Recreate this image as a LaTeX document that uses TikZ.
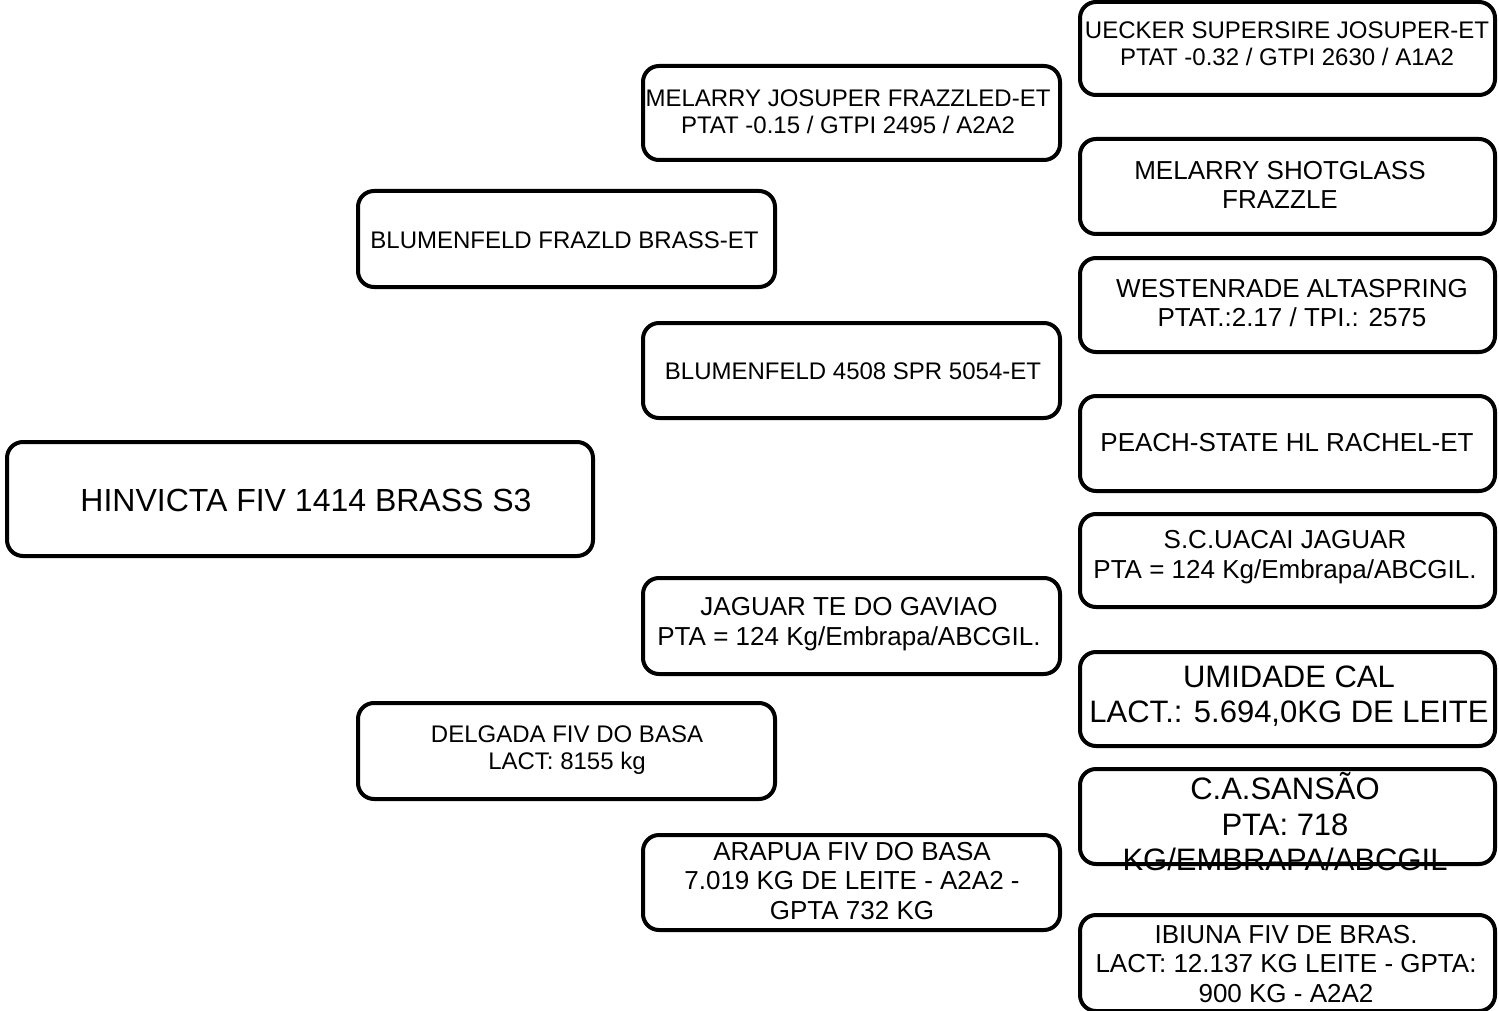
\documentclass[tikz,border=0pt]{standalone}
\usepackage{fontspec}
\setmainfont{Liberation Sans}
\begin{document}
\begin{tikzpicture}[x=1pt,y=-1pt,
  box/.style={draw=black, line width=4pt, rounded corners=16pt, fill=white, inner sep=0pt},
  tA/.style={inner sep=0pt, align=center, font=\fontsize{24}{27}\selectfont},
  tB/.style={inner sep=0pt, align=center, font=\fontsize{26}{29.5}\selectfont},
  tC/.style={inner sep=0pt, align=center, font=\fontsize{31}{35.5}\selectfont},
  tD/.style={inner sep=0pt, align=center, font=\fontsize{32}{36}\selectfont}]
\useasboundingbox (0,0) rectangle (1499,1011);
% left
\node[box, minimum width=586pt, minimum height=114pt] (b0) at (300,499) {};
\node[tD] (t0) at (306,500) {HINVICTA FIV 1414 BRASS S3};
% second column
\node[box, minimum width=417pt, minimum height=96pt] (b1) at (566.5,239) {};
\node[tA] (t1) at (564.5,240) {BLUMENFELD FRAZLD BRASS-ET};
\node[box, minimum width=417pt, minimum height=96pt] (b2) at (566.5,751) {};
\node[tA] (t2) at (567,750) {DELGADA FIV DO BASA\\LACT: 8155 kg};
% third column
\node[box, minimum width=417pt, minimum height=94pt] (b3) at (851.5,113) {};
\node[tA] (t3) at (848,112) {MELARRY JOSUPER FRAZZLED-ET\\PTAT -0.15 / GTPI 2495 / A2A2};
\node[box, minimum width=417pt, minimum height=95pt] (b4) at (851.5,370.5) {};
\node[tA] (t4) at (853,371) {BLUMENFELD 4508 SPR 5054-ET};
\node[box, minimum width=417pt, minimum height=96pt] (b5) at (851.5,626) {};
\node[tB] (t5) at (849,624) {JAGUAR TE DO GAVIAO\\PTA = 124 Kg/Embrapa/ABCGIL.};
\node[box, minimum width=417pt, minimum height=95pt] (b6) at (851.5,882.5) {};
\node[tB] (t6) at (852,881) {ARAPUA FIV DO BASA\\7.019 KG DE LEITE - A2A2 -\\GPTA 732 KG};
% right column
\node[box, minimum width=415pt, minimum height=93pt] (r1) at (1287.5,48.5) {};
\node[tA] (u1) at (1287,44) {UECKER SUPERSIRE JOSUPER-ET\\PTAT -0.32 / GTPI 2630 / A1A2};
\node[box, minimum width=415pt, minimum height=95pt] (r2) at (1287.5,186.5) {};
\node[tB] (u2) at (1280,185) {MELARRY SHOTGLASS\\FRAZZLE};
\node[box, minimum width=415pt, minimum height=94pt] (r3) at (1287.5,305) {};
\node[tB] (u3) at (1292,303) {WESTENRADE ALTASPRING\\PTAT.:2.17 / TPI.: 2575};
\node[box, minimum width=415pt, minimum height=95pt] (r4) at (1287.5,443.5) {};
\node[tB] (u4) at (1287,443) {PEACH-STATE HL RACHEL-ET};
\node[box, minimum width=415pt, minimum height=93pt] (r5) at (1287.5,560.5) {};
\node[tB] (u5) at (1285,557) {S.C.UACAI JAGUAR\\PTA = 124 Kg/Embrapa/ABCGIL.};
\node[box, minimum width=415pt, minimum height=94pt] (r6) at (1287.5,699) {};
\node[tC] (u6) at (1289,696) {UMIDADE CAL\\LACT.: 5.694,0KG DE LEITE};
\node[box, minimum width=415pt, minimum height=95pt] (r7) at (1287.5,816.5) {};
\node[tC] (u7) at (1285,822) {C.A.SANSÃO\\PTA: 718\\KG/EMBRAPA/ABCGIL};
\node[box, minimum width=415pt, minimum height=96pt] (r8) at (1287.5,963) {};
\node[tB] (u8) at (1286,964) {IBIUNA FIV DE BRAS.\\LACT: 12.137 KG LEITE - GPTA:\\900 KG - A2A2};
\end{tikzpicture}
\end{document}
